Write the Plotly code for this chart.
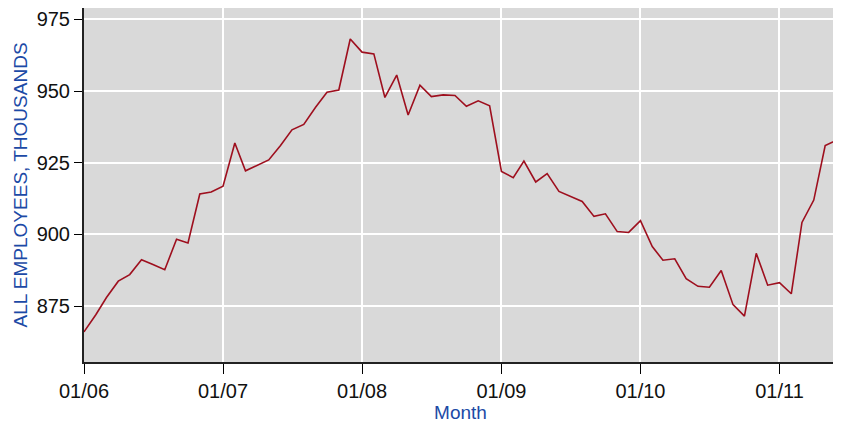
import plotly.graph_objects as go
import pandas as pd

# monthly, 01/2006 .. 06/2011
months = pd.date_range("2006-01-01", "2011-06-01", freq="MS")

employees = [
    866.0, 872.0, 878.0, 883.7, 886.0, 891.2, 889.5, 887.7, 898.3, 897.0, 914.1, 914.8,
    916.8, 931.9, 922.2, 924.1, 926.0, 931.0, 936.5, 938.4, 944.4, 949.6, 950.4, 968.2,
    963.6, 963.0, 947.8, 955.6, 941.7, 952.1, 948.1, 948.7, 948.5, 944.7, 946.6, 944.9,
    922.0, 919.8, 925.6, 918.3, 921.2, 915.0, 913.3, 911.5, 906.3, 907.2, 901.0, 900.7,
    904.8, 895.8, 891.0, 891.5, 884.6, 881.9, 881.6, 887.4, 875.5, 871.5, 893.4, 882.3,
    883.2, 879.3, 904.2, 912.0, 931.0, 933.0,
]

y_ticks = [875, 900, 925, 950, 975]

fig = go.Figure()
fig.add_trace(go.Scatter(
    x=months,
    y=employees,
    mode="lines",
    line=dict(color="#9e0f1e", width=1.6),
    showlegend=False,
))

blue = "#1c4aa6"
font_family = "Liberation Sans, Arial, sans-serif"
tickfont = dict(family=font_family, size=20, color="#111111")

# page body has an 8px margin, so the figure is sized/offset to compensate
fig.update_layout(
    width=833,
    height=423,
    margin=dict(l=76, r=4, t=0, b=69, autoexpand=False),
    paper_bgcolor="white",
    plot_bgcolor="#d9d9d9",
    xaxis=dict(
        range=[months[0], months[-1]],
        tick0="2006-01-01",
        dtick="M12",
        tickformat="%m/%y",
        ticks="outside",
        ticklen=10,
        tickcolor="black",
        tickfont=tickfont,
        showgrid=True,
        gridcolor="white",
        gridwidth=1.5,
        showline=True,
        linecolor="#222222",
        linewidth=2,
        mirror=True,
        zeroline=False,
        automargin=False,
        title=dict(text="Month", font=dict(family=font_family, size=19, color=blue), standoff=4),
    ),
    yaxis=dict(
        range=[855.5, 979],
        tickvals=y_ticks,
        ticks="outside",
        ticklen=8,
        tickcolor="black",
        tickfont=tickfont,
        showgrid=True,
        gridcolor="white",
        gridwidth=1.5,
        showline=True,
        linecolor="#222222",
        linewidth=2,
        mirror=True,
        zeroline=False,
        automargin=False,
        title=dict(text="ALL EMPLOYEES, THOUSANDS", font=dict(family=font_family, size=19, color=blue), standoff=4),
    ),
)

fig.write_html("out.html")
